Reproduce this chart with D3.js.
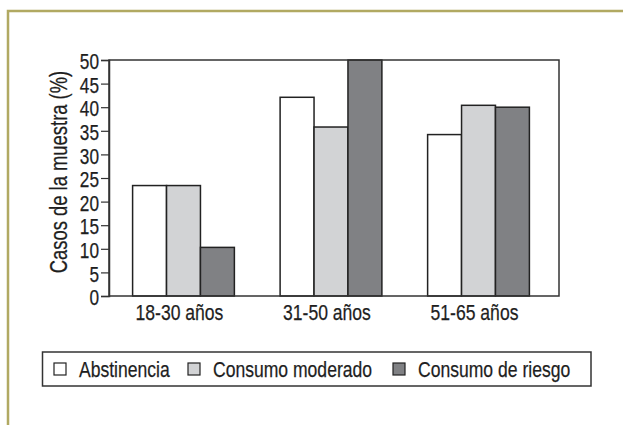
<!DOCTYPE html>
<html>
<head>
<meta charset="utf-8">
<script src="https://cdn.jsdelivr.net/npm/d3@7"></script>
<style>
  body { margin: 0; background: #fff; }
  svg { display: block; }
  text { font-family: "Liberation Sans", Arial, sans-serif; fill: #1e1e1e; stroke: #1e1e1e; stroke-width: 0.25px; }
</style>
</head>
<body>
<div id="chart"></div>
<script>
// data
const categories = ["18-30 años", "31-50 años", "51-65 años"];
const seriesNames = ["Abstinencia", "Consumo moderado", "Consumo de riesgo"];
const abstinencia = [23.4, 42.1, 34.2];
const moderado = [23.4, 35.8, 40.4];
const riesgo = [10.3, 50, 40.0];
const yTicks = [0, 5, 10, 15, 20, 25, 30, 35, 40, 45, 50];

const seriesValues = [abstinencia, moderado, riesgo];
const colors = ["#ffffff", "#d2d3d5", "#808184"];

const width = 623, height = 425;
const plot = {left: 109, top: 60, right: 559, bottom: 296};

// squeeze text horizontally to get the condensed look
function condense(sel, k) {
    sel.each(function() {
        const len = this.getComputedTextLength();
        d3.select(this)
            .attr("textLength", len * k)
            .attr("lengthAdjust", "spacingAndGlyphs");
    });
}

const svg = d3.select("#chart").append("svg")
    .attr("width", width)
    .attr("height", height);

// olive frame (top and left edges)
svg.append("path")
    .attr("d", `M8,${height} L8,11 L${width},11`)
    .attr("fill", "none")
    .attr("stroke", "#b1a962")
    .attr("stroke-width", 2.5);

const x0 = d3.scaleBand()
    .domain(categories)
    .range([plot.left, 553])
    .paddingInner(0.31)
    .paddingOuter(0.16);

const x1 = d3.scaleBand()
    .domain(seriesNames)
    .range([0, x0.bandwidth()]);

const y = d3.scaleLinear()
    .domain([0, 50])
    .range([plot.bottom, plot.top]);

const color = d3.scaleOrdinal()
    .domain(seriesNames)
    .range(colors);

// table for the bars
const rows = [];
categories.forEach((c, i) => {
    seriesNames.forEach((s, j) => {
        rows.push({cat: c, series: s, value: seriesValues[j][i]});
    });
});

svg.append("g")
  .selectAll("rect")
  .data(rows)
  .enter()
  .append("rect")
    .attr("x", d => x0(d.cat) + x1(d.series))
    .attr("y", d => y(d.value))
    .attr("width", x1.bandwidth())
    .attr("height", d => y(0) - y(d.value))
    .attr("fill", d => color(d.series))
    .attr("stroke", "#222")
    .attr("stroke-width", 1.5);

// plot box
svg.append("rect")
    .attr("x", plot.left)
    .attr("y", plot.top)
    .attr("width", plot.right - plot.left)
    .attr("height", plot.bottom - plot.top)
    .attr("fill", "none")
    .attr("stroke", "#333")
    .attr("stroke-width", 1.5);

// y axis
const yAxis = svg.append("g")
    .attr("transform", `translate(${plot.left},0)`)
    .call(d3.axisLeft(y).tickValues(yTicks).tickSize(8).tickPadding(2));
yAxis.select(".domain").attr("stroke", "#333").attr("stroke-width", 1.5);
yAxis.selectAll(".tick line").attr("stroke", "#333").attr("stroke-width", 1.2);
yAxis.selectAll(".tick text")
    .attr("font-family", null)
    .attr("fill", null)
    .style("font-size", "21.5px")
    .attr("dy", "0.4em")
    .call(condense, 0.8);

// category labels
svg.append("g")
  .selectAll("text")
  .data(categories)
  .enter()
  .append("text")
    .attr("x", d => x0(d) + x0.bandwidth() / 2 - 4)
    .attr("y", 320)
    .attr("text-anchor", "middle")
    .style("font-size", "22.5px")
    .text(d => d)
    .call(condense, 0.78);

// y label
svg.append("text")
    .attr("transform", `translate(67,${(plot.top + plot.bottom) / 2 - 6}) rotate(-90)`)
    .attr("text-anchor", "middle")
    .style("font-size", "23px")
    .text("Casos de la muestra (%)")
    .call(condense, 0.8);

// legend
const legend = svg.append("g");
legend.append("rect")
    .attr("x", 42.5)
    .attr("y", 352)
    .attr("width", 548.5)
    .attr("height", 34)
    .attr("fill", "none")
    .attr("stroke", "#333")
    .attr("stroke-width", 1.5);

const legendX = [54, 188, 393];
const items = legend.selectAll("g.item")
  .data(seriesNames)
  .enter()
  .append("g")
    .attr("class", "item")
    .attr("transform", (d, i) => `translate(${legendX[i]},363)`);

items.append("rect")
    .attr("width", 12)
    .attr("height", 12)
    .attr("fill", d => color(d))
    .attr("stroke", "#222")
    .attr("stroke-width", 1.2);

items.append("text")
    .attr("x", 25)
    .attr("y", 14)
    .style("font-size", "22.5px")
    .text(d => d)
    .call(condense, 0.78);
</script>
</body>
</html>
